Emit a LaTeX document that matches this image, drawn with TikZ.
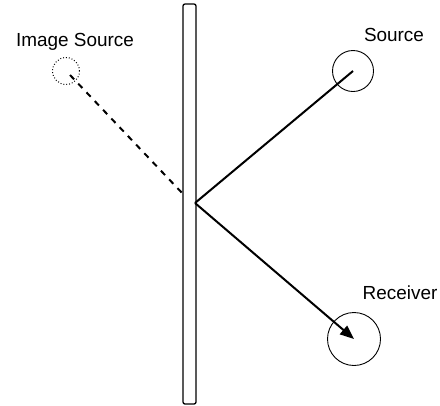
\documentclass[tikz,border=0pt]{standalone}
\usepackage{fontspec}
\setmainfont{Liberation Sans}
\usetikzlibrary{arrows.meta}
\begin{document}
\begin{tikzpicture}[x=1bp,y=-1bp,
  lbl/.style={font=\fontsize{19}{21}\selectfont},
  ray/.style={line width=2bp},
  circ/.style={circle,draw,line width=0.9bp,minimum size=#1,inner sep=0pt}]
\useasboundingbox (0,0) rectangle (440,405);
\draw[line width=1.3bp,rounded corners=2bp] (183,404) -- (183,4) -- (196,4) -- (196,404) -- cycle;
\node[circ=27bp,dotted,line width=1bp] (img) at (66,71) {};
\node[circ=41bp] (src) at (353,71) {};
\node[circ=53bp] (rcv) at (354,339) {};
\coordinate (r) at (195,203);
\coordinate (w) at (184,195);
\node[lbl] (limg) at (75,42) {Image Source};
\node[lbl] (lsrc) at (394,35) {Source};
\node[lbl] (lrcv) at (400,293) {Receiver};
\draw[ray] (src.center) -- (r);
\draw[ray,-{Triangle[length=14bp,width=11bp]}] (r) -- (rcv.center);
\draw[ray,dash pattern=on 6bp off 6bp] (70,75) -- (w);
\end{tikzpicture}
\end{document}
